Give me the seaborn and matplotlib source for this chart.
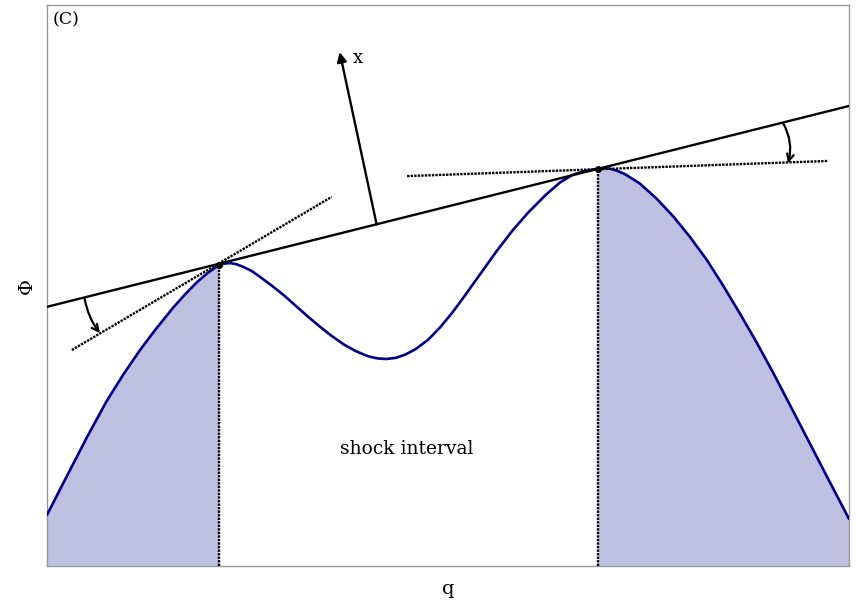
import numpy as np
import pandas as pd
import matplotlib
matplotlib.use("Agg")
import matplotlib.pyplot as plt
from matplotlib.patches import FancyArrowPatch
import seaborn as sns

# Flux function Phi(q) sampled along q
q_vals = [0.00, 0.15, 0.33, 0.50, 0.74, 0.95, 1.16, 1.35, 1.57, 1.72, 1.87,
          2.00, 2.14, 2.21, 2.28, 2.36, 2.45, 2.55, 2.66, 2.80, 2.95, 3.10,
          3.25, 3.40, 3.55, 3.70, 3.85, 4.00, 4.12, 4.23, 4.35, 4.47, 4.60,
          4.75, 4.90, 5.05, 5.20, 5.40, 5.60, 5.81, 6.00, 6.23, 6.40, 6.55,
          6.70, 6.87, 6.95, 7.02, 7.10, 7.20, 7.39, 7.60, 7.81, 8.02, 8.23,
          8.43, 8.64, 8.85, 9.06, 9.26, 9.47, 9.73, 10.00]
phi_vals = [0.91, 1.33, 1.83, 2.30, 2.93, 3.41, 3.85, 4.21, 4.60, 4.84, 5.06,
            5.22, 5.36, 5.39, 5.40, 5.38, 5.33, 5.26, 5.15, 5.00, 4.83, 4.64,
            4.45, 4.27, 4.10, 3.95, 3.83, 3.74, 3.70, 3.69, 3.71, 3.77, 3.87,
            4.03, 4.25, 4.51, 4.80, 5.20, 5.60, 5.99, 6.30, 6.63, 6.84, 6.97,
            7.04, 7.08, 7.09, 7.08, 7.05, 6.99, 6.82, 6.55, 6.23, 5.86, 5.45,
            5.00, 4.50, 3.98, 3.43, 2.88, 2.30, 1.58, 0.84]

# Tangent points bounding the shock
q_left, phi_left = 2.14, 5.36
q_right, phi_right = 6.87, 7.08

# Chord (common tangent) end points
chord_q = [0.0, 10.0]
chord_phi = [4.62, 8.20]

# Local tangents at the two points
tan_left_q = [0.31, 3.55]
tan_left_phi = [3.85, 6.58]
tan_right_q = [4.49, 9.74]
tan_right_phi = [6.95, 7.22]

# Normal direction x
normal_q = [4.11, 3.65]
normal_phi = [6.09, 9.16]

# Rotation arrows
rot_left = [(0.47, 4.76), (0.66, 4.15)]
rot_right = [(9.18, 7.89), (9.24, 7.18)]

sns.set_style("white")
plt.rcParams["font.family"] = ["DejaVu Serif"]
plt.rcParams["text.color"] = "black"
plt.rcParams["axes.labelcolor"] = "black"

fig = plt.figure(figsize=(8.56, 6.04), dpi=100)
ax = fig.add_axes([47 / 856, 1 - 566 / 604, 802 / 856, 561 / 604])

df = pd.DataFrame({"q": q_vals, "phi": phi_vals})
qa = np.array(q_vals)
pa = np.array(phi_vals)

fill_col = "#bfc0e1"
ax.fill_between(qa, 0, pa, where=qa <= q_left + 1e-9, color=fill_col, lw=0)
ax.fill_between(qa, 0, pa, where=qa >= q_right - 1e-9, color=fill_col, lw=0)

sns.lineplot(data=df, x="q", y="phi", ax=ax, color="#000088", lw=1.9,
             sort=False, zorder=3)

dots = (0, (1, 0.5))
# chord
ax.plot(chord_q, chord_phi, color="black", lw=1.7, zorder=4)
# local tangents
ax.plot(tan_left_q, tan_left_phi, color="black", lw=1.7, ls=dots, zorder=4)
ax.plot(tan_right_q, tan_right_phi, color="black", lw=1.7, ls=dots, zorder=4)
# vertical markers of shock interval
ax.plot([q_left, q_left], [0, phi_left], color="black", lw=1.7, ls=dots,
        zorder=4)
ax.plot([q_right, q_right], [0, phi_right], color="black", lw=1.7, ls=dots,
        zorder=4)
ax.plot([q_left, q_right], [phi_left, phi_right], "o", color="black", ms=4,
        zorder=5)

# normal arrow
ax.annotate("", xy=(normal_q[1], normal_phi[1]),
            xytext=(normal_q[0], normal_phi[0]),
            arrowprops=dict(arrowstyle="-|>", color="black", lw=1.7,
                            mutation_scale=14, shrinkA=0, shrinkB=0),
            zorder=5)
ax.text(3.88, 9.05, "x", fontsize=13, ha="center", va="center")

# rotation arrows
for (p0, p1), rad in ((rot_left, 0.12), (rot_right, -0.2)):
    arr = FancyArrowPatch(p0, p1, connectionstyle=f"arc3,rad={rad}",
                          arrowstyle="->", color="black", lw=1.6,
                          mutation_scale=12, shrinkA=0, shrinkB=0, zorder=5)
    ax.add_patch(arr)

ax.text(4.49, 2.09, "shock interval", fontsize=13.5, ha="center",
        va="center")
ax.text(0.07, 9.88, "(C)", fontsize=12.5, ha="left", va="top")

ax.set_xlim(0, 10)
ax.set_ylim(0, 10)
ax.set_xticks([])
ax.set_yticks([])
ax.set_xlabel("q", fontsize=14, labelpad=10)
ax.set_ylabel("Φ", fontsize=14, labelpad=8)
for s in ax.spines.values():
    s.set_color("#999999")
    s.set_linewidth(1.0)

fig.savefig("out.png", dpi=100)
